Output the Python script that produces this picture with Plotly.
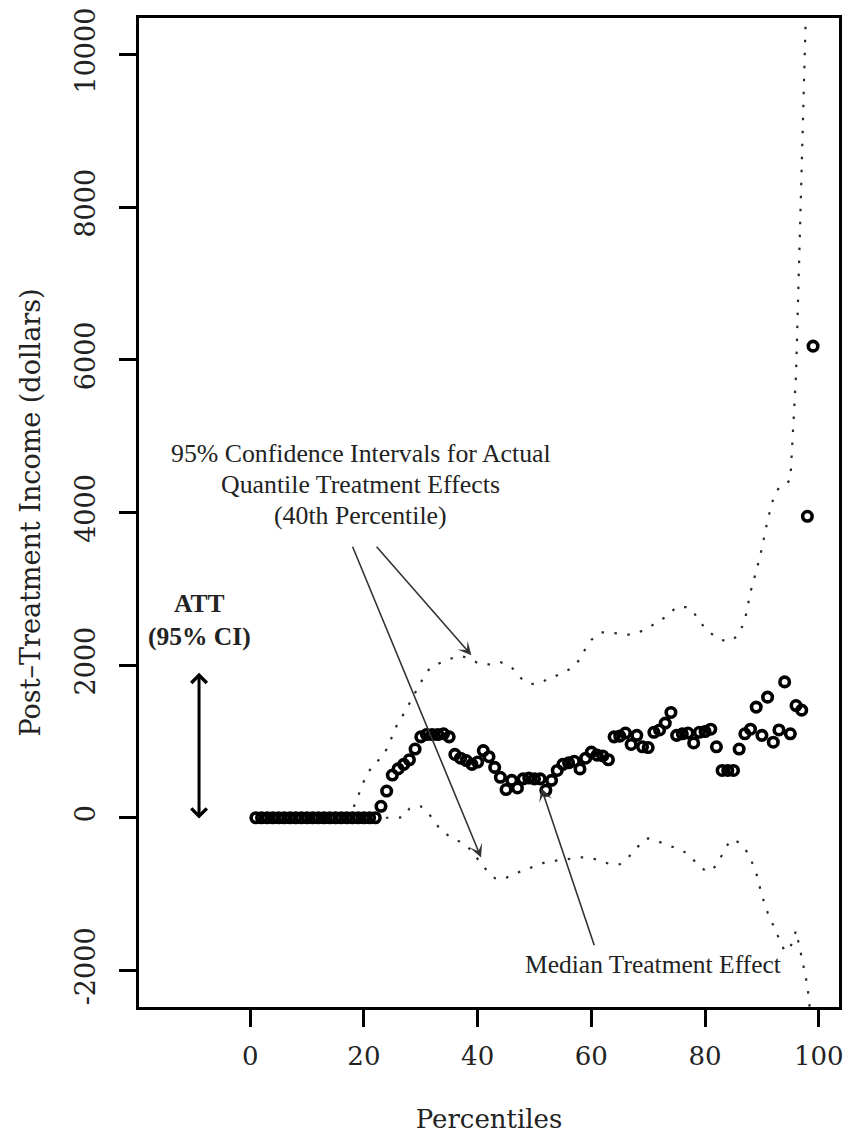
import plotly.graph_objects as go

# ---------------- data ----------------
percentiles = list(range(1, 100))

qte = [0] * 22 + [
    150, 350, 560, 640, 700, 760, 900, 1060, 1090, 1090,          # 23-32
    1090, 1100, 1060, 830, 780, 750, 700, 730, 880, 800,           # 33-42
    660, 530, 370, 490, 390, 510, 520, 510, 510, 360,              # 43-52
    490, 620, 700, 720, 740, 640, 780, 860, 820, 810,              # 53-62
    760, 1060, 1070, 1110, 960, 1080, 930, 920, 1120, 1150,        # 63-72
    1240, 1380, 1080, 1100, 1110, 980, 1120, 1130, 1160, 930,      # 73-82
    620, 620, 620, 900, 1100, 1160, 1450, 1080, 1580, 990,         # 83-92
    1150, 1780, 1100, 1470, 1410, 3950, 6180,                      # 93-99
]

ci_upper = [0] * 17 + [
    100, 280, 480, 620, 720, 780, 900, 1070, 1250, 1360,           # 18-27
    1500, 1640, 1760, 1910, 1980, 2020, 2050, 2080, 2100, 2120,    # 28-37
    2100, 2060, 2030, 2010, 2010, 2030, 2040, 2010, 1970, 1880,    # 38-47
    1800, 1760, 1750, 1770, 1800, 1830, 1860, 1900, 1940, 1990,    # 48-57
    2080, 2220, 2330, 2400, 2430, 2430, 2420, 2410, 2400, 2400,    # 58-67
    2420, 2450, 2490, 2530, 2580, 2630, 2690, 2760, 2760, 2760,    # 68-77
    2690, 2580, 2480, 2420, 2360, 2330, 2310, 2340, 2410, 2590,    # 78-87
    2960, 3230, 3530, 3900, 4180, 4330, 4370, 4420, 5800, 8800,    # 88-97
    11800, 14000,                                                  # 98-99
]

ci_lower = [0] * 26 + [
    10, 120, 150, 150, 80, 0, -110, -190, -240, -280,              # 27-36
    -310, -360, -440, -540, -640, -720, -790, -810, -790, -760,    # 37-46
    -720, -690, -660, -630, -600, -580, -570, -560, -550, -540,    # 47-56
    -530, -520, -520, -530, -550, -570, -600, -620, -610, -560,    # 57-66
    -480, -400, -300, -270, -290, -320, -350, -380, -410, -430,    # 67-76
    -480, -560, -630, -690, -700, -620, -480, -350, -280, -330,    # 77-86
    -400, -540, -720, -1020, -1240, -1410, -1590, -1750, -1700, -1480,  # 87-96
    -1830, -2200, -2900,                                           # 97-99
]

att_ci = [-30, 1900]      # ATT 95% CI drawn as a double arrow
att_x = -9

x_ticks = [0, 20, 40, 60, 80, 100]
y_ticks = [-2000, 0, 2000, 4000, 6000, 8000, 10000]
y_tick_text = ["-2000", "0", "2000", "4000", "6000", "8000", "10000"]

x_range = [-19.56, 103.56]
y_range = [-2480, 10480]

# annotation anchors (data coordinates)
ci_text_x = 19.45
ci_text_lines = ["95% Confidence Intervals for Actual",
                 "Quantile Treatment Effects",
                 "(40th Percentile)"]
ci_text_y = [4768, 4363, 3958]
ci_arrow_tails = [(17.9, 3570), (22.0, 3570)]
ci_arrow_heads = [(40.6, -520), (38.9, 2130)]

att_text_lines = ["ATT", "(95% CI)"]
att_text_y = [2809, 2378]

median_text = "Median Treatment Effect"
median_text_pos = (70.9, -1920)
median_arrow_tail = (60.6, -1690)
median_arrow_head = (51.2, 390)

# ---------------- figure ----------------
SERIF_TICK = "DejaVu Serif"
SERIF_TEXT = "Liberation Serif"

fig = go.Figure()

dot = dict(color="#2a2a2a", width=2.2, dash="2.5px,10.5px")
fig.add_trace(go.Scatter(x=percentiles, y=ci_upper, mode="lines", line=dot,
                         hoverinfo="skip", showlegend=False))
fig.add_trace(go.Scatter(x=percentiles, y=ci_lower, mode="lines", line=dot,
                         hoverinfo="skip", showlegend=False))
fig.add_trace(go.Scatter(x=percentiles, y=qte, mode="markers",
                         marker=dict(symbol="circle-open", size=9.5, color="black",
                                     line=dict(width=3.6, color="black")),
                         cliponaxis=False, showlegend=False))

annotations = []
for txt, yy in zip(ci_text_lines, ci_text_y):
    annotations.append(dict(x=ci_text_x, y=yy, xref="x", yref="y", text=txt,
                            showarrow=False, xanchor="center", yanchor="middle",
                            font=dict(family=SERIF_TEXT, size=25.8, color="#222222")))
for txt, yy in zip(att_text_lines, att_text_y):
    annotations.append(dict(x=att_x, y=yy, xref="x", yref="y", text="<b>%s</b>" % txt,
                            showarrow=False, xanchor="center", yanchor="middle",
                            font=dict(family=SERIF_TEXT, size=25.5, color="#222222")))
annotations.append(dict(x=median_text_pos[0], y=median_text_pos[1], xref="x", yref="y",
                        text=median_text, showarrow=False, xanchor="center",
                        yanchor="middle",
                        font=dict(family=SERIF_TEXT, size=25.5, color="#222222")))

for (tx, ty), (hx, hy) in zip(ci_arrow_tails + [median_arrow_tail],
                              ci_arrow_heads + [median_arrow_head]):
    annotations.append(dict(x=hx, y=hy, ax=tx, ay=ty, xref="x", yref="y",
                            axref="x", ayref="y", text="", showarrow=True,
                            arrowhead=3, arrowsize=1.4, arrowwidth=1.6,
                            arrowcolor="#333333", standoff=0, startstandoff=0))

# ATT double arrow
annotations.append(dict(x=att_x, y=att_ci[1], ax=att_x, ay=att_ci[0], xref="x", yref="y",
                        axref="x", ayref="y", text="", showarrow=True,
                        arrowhead=4, startarrowhead=4, arrowside="end+start",
                        arrowsize=1.0, startarrowsize=1.0, arrowwidth=3,
                        arrowcolor="black", standoff=0, startstandoff=0))

fig.update_layout(
    width=851, height=1137,
    margin=dict(l=139, r=8, t=15, b=130),
    paper_bgcolor="white", plot_bgcolor="white",
    showlegend=False,
    annotations=annotations,
    xaxis=dict(range=x_range, tickvals=x_ticks, showgrid=False, zeroline=False,
               showline=True, mirror=True, linewidth=3, linecolor="black",
               ticks="outside", ticklen=17, tickwidth=2.5, tickcolor="black",
               ticklabelstandoff=7,
               tickfont=dict(family=SERIF_TICK, size=26, color="#222222"),
               title=dict(text="Percentiles", standoff=40,
                          font=dict(family=SERIF_TICK, size=26, color="#222222"))),
    yaxis=dict(range=y_range, tickvals=y_ticks, ticktext=y_tick_text, tickangle=-90,
               showgrid=False, zeroline=False,
               showline=True, mirror=True, linewidth=3, linecolor="black",
               ticks="outside", ticklen=17, tickwidth=2.5, tickcolor="black",
               ticklabelstandoff=13,
               tickfont=dict(family=SERIF_TICK, size=27, color="#222222"),
               title=dict(text="Post\u2013Treatment Income (dollars)", standoff=22,
                          font=dict(family=SERIF_TICK, size=27, color="#222222"))),
)

fig.write_html("out.html")
